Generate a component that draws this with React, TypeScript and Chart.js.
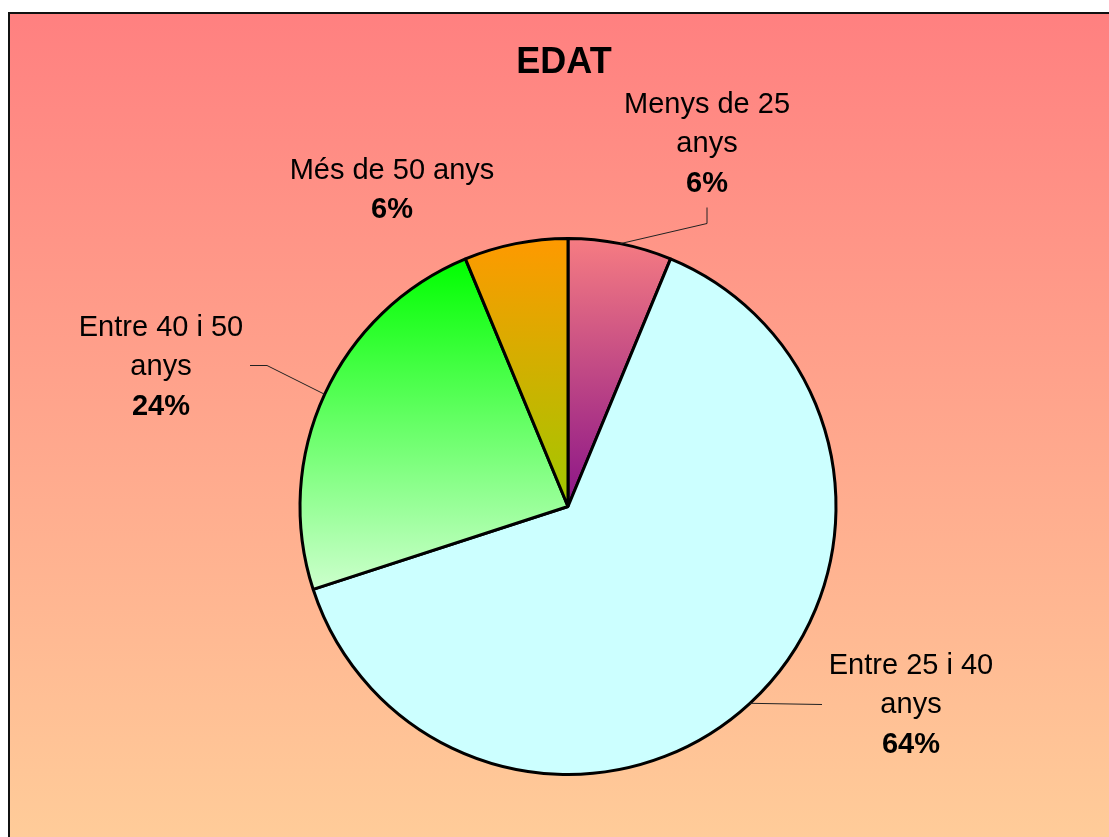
import { useEffect, useRef } from "react";
import { Chart, registerables } from "chart.js";

Chart.register(...registerables);

const TITLE = "EDAT";
const CATEGORIES = ["Menys de 25 anys", "Entre 25 i 40 anys", "Entre 40 i 50 anys", "Més de 50 anys"];
const LABEL_LINES = [["Menys de 25", "anys"], ["Entre 25 i 40", "anys"], ["Entre 40 i 50", "anys"], ["Més de 50 anys"]];
const VALUES = [5, 51, 19, 5];
const GRADIENT_TOP = ["#F67C82", "#CCFFFF", "#00FF00", "#FF9900"];
const GRADIENT_BOTTOM = ["#8A1488", "#CCFFFF", "#CCFFCC", "#A0C800"];

// label placement: offsets (px) from pie centre: text centre x, first baseline y, leader elbow, leader end
const LABEL_POS = [
  { dx: 139, dy: -394, elbow: [139, -283], end: [139, -299] },
  { dx: 343, dy: 167, elbow: [254, 198], end: [254, 198] },
  { dx: -407, dy: -171, elbow: [-301, -141], end: [-318, -141] },
  { dx: -176, dy: -328, elbow: null, end: null },
];

const FONT = '"Liberation Sans", Arial, sans-serif';
const LINE_H = 39.5;

const bgPlugin = {
  id: "bgFrame",
  beforeDraw(chart: any) {
    const { ctx, width, height } = chart;
    ctx.save();
    const g = ctx.createLinearGradient(0, 12, 0, height);
    g.addColorStop(0, "#FF8080");
    g.addColorStop(1, "#FFCC99");
    ctx.fillStyle = g;
    ctx.fillRect(8, 12, width - 8, height - 12);
    ctx.strokeStyle = "#111";
    ctx.lineWidth = 2;
    ctx.beginPath();
    ctx.moveTo(9, height);
    ctx.lineTo(9, 13);
    ctx.lineTo(width, 13);
    ctx.stroke();
    ctx.restore();
  },
};

const gradientPlugin = {
  id: "sliceGradients",
  beforeDatasetsDraw(chart: any) {
    const ctx = chart.ctx;
    const meta = chart.getDatasetMeta(0);
    meta.data.forEach((el: any, i: number) => {
      const { x, y, startAngle, endAngle, outerRadius } = el.getProps(
        ["x", "y", "startAngle", "endAngle", "outerRadius"],
        true
      );
      let minY = y;
      let maxY = y;
      for (let k = 0; k <= 128; k++) {
        const a = startAngle + ((endAngle - startAngle) * k) / 128;
        const py = y + outerRadius * Math.sin(a);
        minY = Math.min(minY, py);
        maxY = Math.max(maxY, py);
      }
      const g = ctx.createLinearGradient(0, minY, 0, maxY);
      g.addColorStop(0, GRADIENT_TOP[i]);
      g.addColorStop(1, GRADIENT_BOTTOM[i]);
      el.options = Object.assign({}, el.options, { backgroundColor: g });
    });
  },
};

const labelPlugin = {
  id: "labels",
  afterDatasetsDraw(chart: any) {
    const ctx = chart.ctx;
    const meta = chart.getDatasetMeta(0);
    const total = VALUES.reduce((a, b) => a + b, 0);
    ctx.save();
    // title
    ctx.fillStyle = "#000";
    ctx.font = `bold 36px ${FONT}`;
    ctx.textAlign = "center";
    ctx.textBaseline = "alphabetic";
    ctx.fillText(TITLE, 564, 73);

    meta.data.forEach((el: any, i: number) => {
      const { x, y, startAngle, endAngle, outerRadius } = el.getProps(
        ["x", "y", "startAngle", "endAngle", "outerRadius"],
        true
      );
      const pos = LABEL_POS[i];
      const mid = (startAngle + endAngle) / 2;
      if (pos.end && pos.elbow) {
        ctx.strokeStyle = "#222";
        ctx.lineWidth = 1;
        ctx.beginPath();
        ctx.moveTo(x + outerRadius * Math.cos(mid), y + outerRadius * Math.sin(mid));
        ctx.lineTo(x + pos.elbow[0], y + pos.elbow[1]);
        ctx.lineTo(x + pos.end[0], y + pos.end[1]);
        ctx.stroke();
      }
      const cx = x + pos.dx;
      let by = y + pos.dy;
      ctx.fillStyle = "#000";
      ctx.textAlign = "center";
      ctx.font = `29px ${FONT}`;
      LABEL_LINES[i].forEach((line) => {
        ctx.fillText(line, cx, by);
        by += LINE_H;
      });
      ctx.font = `bold 29px ${FONT}`;
      ctx.fillText(Math.round((VALUES[i] / total) * 100) + "%", cx, by);
    });
    ctx.restore();
  },
};

export default function App() {
  const ref = useRef<HTMLCanvasElement | null>(null);
  useEffect(() => {
    document.body.style.margin = "0";
    const canvas = ref.current;
    if (!canvas) return;
    const chart = new Chart(canvas, {
      type: "pie",
      data: {
        labels: CATEGORIES,
        datasets: [
          {
            data: VALUES,
            backgroundColor: GRADIENT_TOP,
            borderColor: "#000",
            borderWidth: 3,
          },
        ],
      },
      options: {
        responsive: false,
        animation: false,
        events: [],
        layout: { padding: { top: 237, bottom: 61, left: 200, right: 173 } },
        plugins: {
          legend: { display: false },
          tooltip: { enabled: false },
          title: { display: false },
        },
      },
      plugins: [bgPlugin, gradientPlugin, labelPlugin],
    });
    return () => chart.destroy();
  }, []);
  return <canvas ref={ref} width={1109} height={837} style={{ display: "block" }} />;
}
